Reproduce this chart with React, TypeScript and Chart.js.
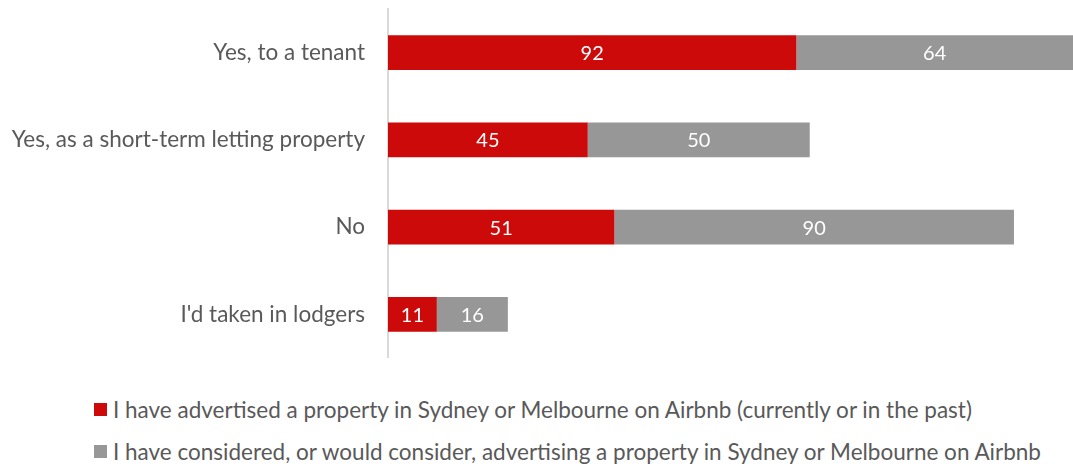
import React, { useEffect, useRef } from "react";
import { Chart, registerables } from "chart.js";

Chart.register(...registerables);

const categories = ["Yes, to a tenant", "Yes, as a short-term letting property", "No", "I'd taken in lodgers"];
const advertised = [92, 45, 51, 11];
const considered = [64, 50, 90, 16];
const seriesNames = [
  "I have advertised a property in Sydney or Melbourne on Airbnb (currently or in the past)",
  "I have considered, or would consider, advertising a property in Sydney or Melbourne on Airbnb",
];
const colors = ["#CC0A0A", "#979797"];
const FONT = "Lato";

const labelPlugin = {
  id: "barLabels",
  afterDatasetsDraw(chart: any) {
    const { ctx, chartArea } = chart;
    ctx.save();
    ctx.fillStyle = "#FFFFFF";
    ctx.font = `20px ${FONT}`;
    ctx.textAlign = "center";
    ctx.textBaseline = "middle";
    chart.data.datasets.forEach((ds: any, di: number) => {
      const meta = chart.getDatasetMeta(di);
      meta.data.forEach((el: any, i: number) => {
        const l = Math.max(Math.min(el.x, el.base), chartArea.left);
        const r = Math.min(Math.max(el.x, el.base), chartArea.right);
        ctx.fillText(String(ds.data[i]), (l + r) / 2, el.y + 1);
      });
    });
    ctx.restore();
  },
};

export default function App() {
  const ref = useRef<HTMLCanvasElement>(null);
  useEffect(() => {
    if (!ref.current) return;
    const chart = new Chart(ref.current, {
      type: "bar",
      data: {
        labels: categories,
        datasets: [
          { label: seriesNames[0], data: advertised, backgroundColor: colors[0], barPercentage: 0.4, categoryPercentage: 1 },
          { label: seriesNames[1], data: considered, backgroundColor: colors[1], barPercentage: 0.4, categoryPercentage: 1 },
        ],
      },
      options: {
        indexAxis: "y",
        animation: false,
        responsive: false,
        maintainAspectRatio: false,
        layout: { padding: { top: 9, bottom: 0, left: 0, right: 0 } },
        plugins: { legend: { display: false }, tooltip: { enabled: false } },
        scales: {
          x: { stacked: true, display: false, min: 0, max: 154.3 },
          y: {
            stacked: true,
            grid: { display: false, drawTicks: false },
            border: { display: true, color: "#D9D9D9", width: 2 },
            ticks: { color: "#595959", font: { family: FONT, size: 22.5 }, padding: 23 },
            afterFit: (s: any) => {
              s.width = 388;
              s.paddingTop = 0;
              s.paddingBottom = 0;
            },
          },
        },
      },
      plugins: [labelPlugin],
    });
    return () => chart.destroy();
  }, []);

  return (
    <div style={{ position: "absolute", left: 0, top: 0, width: 1073, height: 467, background: "#fff", fontFamily: FONT }}>
      <canvas ref={ref} width={1073} height={358} style={{ position: "absolute", left: 0, top: 0 }} />
      {seriesNames.map((n, i) => (
        <div key={i} style={{ position: "absolute", left: 94, top: 409.5 + i * 42 - 14, height: 28, display: "flex", alignItems: "center", whiteSpace: "nowrap", color: "#595959", fontSize: 22.5 }}>
          <span style={{ display: "inline-block", width: 13, height: 13, background: colors[i], marginRight: 6 }} />
          <span>{n}</span>
        </div>
      ))}
    </div>
  );
}
